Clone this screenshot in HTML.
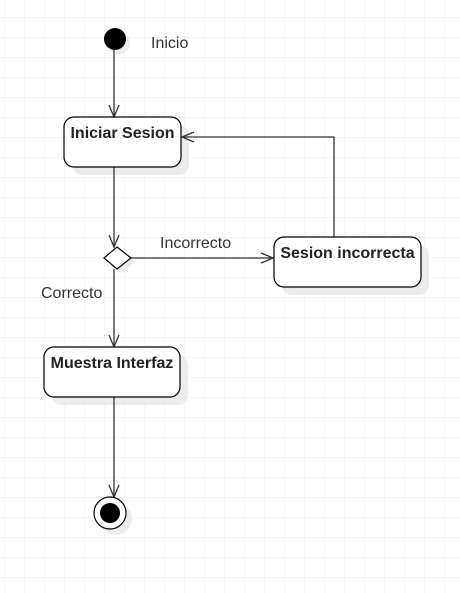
<!DOCTYPE html>
<html><head><style>
html,body{margin:0;padding:0;background:#fff;}
svg{display:block;}
text{font-family:"Liberation Sans",sans-serif;font-size:16px;}
</style></head><body>
<svg width="460" height="593" xmlns="http://www.w3.org/2000/svg">
<defs>
<pattern id="g" x="4" y="-3" width="20" height="20" patternUnits="userSpaceOnUse">
<path d="M0 0H20M0 0V20" stroke="#ebebeb" stroke-width="1" fill="none"/>
</pattern>
</defs>
<rect width="460" height="593" fill="url(#g)"/>
<g fill="#ececec">
<circle cx="119" cy="43" r="11"/>
<rect x="72" y="125" width="117" height="50" rx="10"/>
<polygon points="121,251 135,262 121,273 108,262"/>
<rect x="282" y="245" width="147" height="50" rx="10"/>
<rect x="52" y="355" width="136" height="50" rx="10"/>
<circle cx="116" cy="519" r="16"/>
</g>
<g stroke="#333" stroke-width="1.3" fill="none">
<line x1="114" y1="50" x2="114" y2="117"/>
<polyline points="109,105 114,117 119,105"/>
<line x1="114" y1="167" x2="114" y2="247"/>
<polyline points="109,235 114,247 119,235"/>
<line x1="131" y1="258" x2="273" y2="258"/>
<polyline points="261,253 273,258 261,263"/>
<polyline points="334,237 334,137 182,137"/>
<polyline points="194,132 182,137 194,142"/>
<line x1="114" y1="269" x2="114" y2="347"/>
<polyline points="109,335 114,347 119,335"/>
<line x1="114" y1="397" x2="114" y2="497"/>
<polyline points="109,485 114,497 119,485"/>
</g>
<circle cx="115" cy="39" r="11" fill="#000"/>
<g stroke="#000" stroke-width="1.2" fill="#fff">
<rect x="64" y="117" width="117" height="50" rx="10"/>
<polygon points="117,247 131,258 117,269 104,258"/>
<rect x="274" y="237" width="147" height="50" rx="10"/>
<rect x="44" y="347" width="136" height="50" rx="10"/>
<circle cx="110" cy="513" r="16"/>
</g>
<circle cx="110" cy="513" r="10" fill="#000"/>
<g fill="#222" text-anchor="middle">
<text x="122.5" y="138" font-weight="bold">Iniciar Sesion</text>
<text x="347.5" y="258" font-weight="bold">Sesion incorrecta</text>
<text x="112" y="368" font-weight="bold">Muestra Interfaz</text>
</g>
<g fill="#333">
<text x="151" y="48">Inicio</text>
<text x="160" y="248">Incorrecto</text>
<text x="41" y="298">Correcto</text>
</g>
</svg>
</body></html>
